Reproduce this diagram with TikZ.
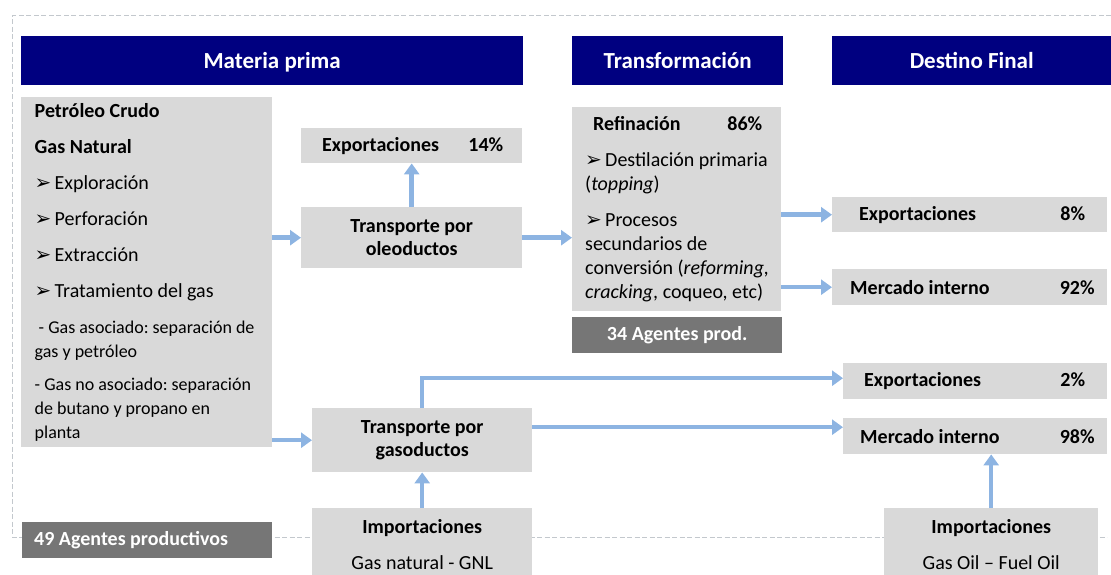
\documentclass[tikz,border=0pt]{standalone}
\usepackage{fontspec}
\setmainfont{Carlito}
\newfontfamily\symf{DejaVu Sans}
\usetikzlibrary{arrows.meta}
\frenchspacing
\definecolor{hdrnavy}{RGB}{0,0,128}
\definecolor{boxgray}{RGB}{217,217,217}
\definecolor{agentgray}{RGB}{118,118,118}
\definecolor{flowblue}{RGB}{141,180,226}
\definecolor{framegray}{RGB}{195,200,205}
\newcommand{\bul}{\makebox[20pt][l]{\symf\bfseries\fontsize{20}{20}\selectfont ➢}}
\newcommand{\fixw}[2]{\makebox[#1pt][l]{#2}}
\newcommand{\splitrow}[5]{\makebox[#1pt]{\hspace*{#2pt}#3\hfill #4\hspace*{#5pt}}}
\tikzset{
  hdr/.style={fill=hdrnavy, text=white, inner sep=0pt, anchor=north west,
    text height=18pt, text depth=3pt, font=\fontsize{23}{28}\selectfont\bfseries},
  gbox/.style={fill=boxgray, inner sep=0pt, anchor=north west,
    font=\fontsize{20}{24}\selectfont},
  rowbox/.style={gbox, font=\fontsize{20}{24}\selectfont\bfseries},
  agbox/.style={fill=agentgray, text=white, inner sep=0pt, anchor=north west,
    font=\fontsize{20}{24}\selectfont\bfseries},
  flow/.style={draw=flowblue, line width=4.5pt, -{Triangle[length=11pt,width=15pt]}}
}

\begin{document}
\begin{tikzpicture}[x=1pt,y=-1pt]
\useasboundingbox (0,0) rectangle (1111,574);
% The frame
\draw[framegray, dash pattern=on 5pt off 2.5pt, line width=0.9pt]
  (1111,15) -- (12.5,15) -- (12.5,537) -- (1107,537);
% The headers
\node[hdr, minimum width=502pt, minimum height=49pt] (hdrRaw) at (21,36) {Materia prima};
\node[hdr, minimum width=211pt, minimum height=49pt] (hdrTrans) at (572,36) {Transformación};
\node[hdr, minimum width=279pt, minimum height=49pt] (hdrDest) at (832,36) {Destino Final};
% Raw material
\node[gbox, inner xsep=13.5pt, minimum height=350pt, align=left] (raw) at (21,97) {%
  \fixw{224}{\textbf{Petróleo Crudo}}\\[12pt]
  \textbf{Gas Natural}\\[12pt]
  \bul Exploración\\[12pt]
  \bul Perforación\\[12pt]
  \bul Extracción\\[12pt]
  \bul Tratamiento del gas\\[12pt]
  {\fontsize{18}{24}\selectfont\hspace*{4pt}- Gas asociado: separación de}\\
  {\fontsize{18}{24}\selectfont gas y petróleo}\\[9pt]
  {\fontsize{18}{24}\selectfont - Gas no asociado: separación}\\
  {\fontsize{18}{24}\selectfont de butano y propano en}\\
  {\fontsize{18}{24}\selectfont planta}};
\node[agbox, minimum height=36pt] (agRaw) at (22,522)
  {\fixw{250}{\hspace*{12pt}49 Agentes productivos}};
% Oil line
\node[rowbox, minimum height=35pt] (expOleo) at (301,128)
  {\splitrow{221}{21}{Exportaciones}{14\%}{19}};
\node[rowbox, minimum width=221pt, minimum height=61pt, align=center, font=\fontsize{20}{23}\selectfont\bfseries]
  (oleo) at (301,207) {Transporte por\\oleoductos};
\node[gbox, inner xsep=13pt, minimum height=204pt, align=left] (refin) at (572,107) {%
  \fixw{183}{\textbf{\hspace*{8pt}Refinación\hfill 86\%\hspace*{6pt}}}\\[12pt]
  \fixw{183}{\bul Destilación primaria}\\
  \fixw{183}{(\textit{topping})}\\[12pt]
  \fixw{183}{\bul Procesos}\\
  \fixw{183}{secundarios de}\\
  \fixw{183}{conversión (\textit{reforming,}}\\
  \fixw{183}{\textit{cracking}, coqueo, etc)}};
\node[agbox, minimum width=210pt, minimum height=36pt] (agRefin) at (572,317) {34 Agentes prod.};
\node[rowbox, minimum height=35pt] (expRef) at (832,197)
  {\splitrow{275}{27}{Exportaciones}{8\%}{22}};
\node[rowbox, minimum height=36pt] (mercRef) at (832,269)
  {\splitrow{275}{18}{Mercado interno}{92\%}{12.5}};
% Gas line
\node[rowbox, minimum width=220pt, minimum height=64pt, align=center, font=\fontsize{20}{23}\selectfont\bfseries]
  (gaso) at (312,408) {Transporte por\\gasoductos};
\node[gbox, minimum width=220pt, minimum height=72pt, align=center] (impGas) at (312,508)
  {\textbf{Importaciones}\\[12pt]Gas natural - GNL};
\node[rowbox, minimum height=36pt] (expGas) at (843,363)
  {\splitrow{264}{21}{Exportaciones}{2\%}{22}};
\node[rowbox, minimum height=36pt] (mercGas) at (843,418)
  {\splitrow{264}{17}{Mercado interno}{98\%}{12.5}};
\node[gbox, minimum width=214pt, minimum height=72pt, align=center] (impOil) at (884,508)
  {\textbf{Importaciones}\\[12pt]Gas Oil – Fuel Oil};
% The flows
\draw[flow] (raw.east |- oleo.west) -- (oleo.west);
\draw[flow] (oleo.north) -- (expOleo.south);
\draw[flow] (oleo.east) -- (oleo.east -| refin.west);
\draw[flow] (refin.east |- expRef.west) -- (expRef.west);
\draw[flow] (refin.east |- mercRef.west) -- (mercRef.west);
\draw[flow] (raw.east |- gaso.west) -- (gaso.west);
\draw[flow] (gaso.north) |- ([yshift=3pt]expGas.west);
\draw[flow] ([yshift=13pt]gaso.east) -- ([yshift=13pt]gaso.east -| mercGas.west);
\draw[flow] (impGas.north) -- (gaso.south);
\draw[flow] (impOil.north) -- (impOil.north |- mercGas.south);
\end{tikzpicture}
\end{document}
